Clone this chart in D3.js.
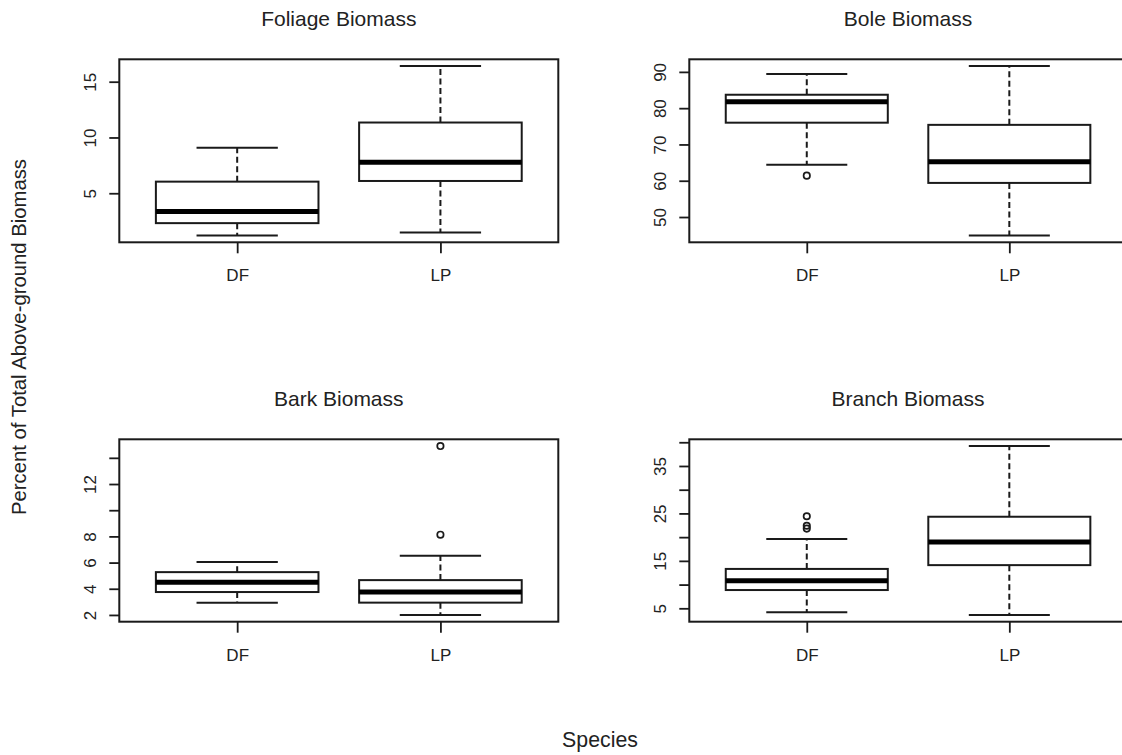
<!DOCTYPE html>
<html>
<head>
<meta charset="utf-8">
<script src="https://cdn.jsdelivr.net/npm/d3@7"></script>
<style>
  body { margin: 0; background: #fff; }
  svg text { font-family: "Liberation Sans", Arial, sans-serif; fill: #222; }
</style>
</head>
<body>
<div id="chart"></div>
<script>
// species on the x axis of each panel
const species = ['DF', 'LP']

// box stats per species: [lower whisker, Q1, median, Q3, upper whisker]
const foliageDF = [1.21, 2.32, 3.36, 6.04, 9.07]
const foliageLP = [1.48, 6.1, 7.77, 11.34, 16.4]
const boleDF = [64.4, 76.0, 81.8, 83.7, 89.4]
const boleLP = [44.9, 59.4, 65.2, 75.4, 91.6]
const barkDF = [2.94, 3.75, 4.5, 5.27, 6.05]
const barkLP = [2.0, 2.94, 3.75, 4.66, 6.53]
const branchDF = [4.16, 8.85, 10.8, 13.3, 19.6]
const branchLP = [3.6, 14.1, 19.0, 24.3, 39.2]

// outliers per species
const foliageOut = [[], []]
const boleOut = [[61.4], []]
const barkOut = [[], [8.13, 14.9]]
const branchOut = [[21.8, 22.4, 24.4], []]

// y ticks and the labels R printed (blank = tick only)
const foliageTicks = [5, 10, 15]
const foliageLabels = ['5', '10', '15']
const boleTicks = [50, 60, 70, 80, 90]
const boleLabels = ['50', '60', '70', '80', '90']
const barkTicks = [2, 4, 6, 8, 10, 12, 14]
const barkLabels = ['2', '4', '6', '8', '', '12', '']
const branchTicks = [5, 10, 15, 20, 25, 30, 35, 40]
const branchLabels = ['5', '', '15', '', '25', '', '35', '']

const titles = ['Foliage Biomass', 'Bole Biomass', 'Bark Biomass', 'Branch Biomass']

const width = 1122
const height = 755
const ink = '#1a1a1a'

// plot frames (right column runs past the picture edge, as in the original)
const cols = [[119.3, 558.3], [689.3, 1126.8]]
const rows = [[59.3, 242.3], [439.3, 621.7]]

const panels = [
  {title: titles[0], stats: [foliageDF, foliageLP], out: foliageOut, ticks: foliageTicks, labels: foliageLabels, col: 0, row: 0},
  {title: titles[1], stats: [boleDF, boleLP], out: boleOut, ticks: boleTicks, labels: boleLabels, col: 1, row: 0},
  {title: titles[2], stats: [barkDF, barkLP], out: barkOut, ticks: barkTicks, labels: barkLabels, col: 0, row: 1},
  {title: titles[3], stats: [branchDF, branchLP], out: branchOut, ticks: branchTicks, labels: branchLabels, col: 1, row: 1}
]

const svg = d3.select('#chart').append('svg')
  .attr('width', width)
  .attr('height', height)

svg.append('rect').attr('width', width).attr('height', height).attr('fill', '#fff')

// R style: extend the range by 4% each side
const padExtent = ext => {
  const d = (ext[1] - ext[0]) * 0.04
  return [ext[0] - d, ext[1] + d]
}

const drawPanel = p => {
  const [x0, x1] = cols[p.col]
  const [y0, y1] = rows[p.row]

  const all = p.stats.flat().concat(p.out.flat())
  const y = d3.scaleLinear().domain(padExtent(d3.extent(all))).range([y1, y0])
  const x = d3.scaleLinear().domain(padExtent([0.5, species.length + 0.5])).range([x0, x1])

  const g = svg.append('g')

  // y axis, labels rotated like R's las=0
  const yAx = g.append('g')
    .attr('transform', `translate(${x0},0)`)
    .call(d3.axisLeft(y)
      .tickValues(p.ticks)
      .tickSize(10)
      .tickSizeOuter(0)
      .tickFormat((d, i) => p.labels[i]))
  yAx.select('.domain').remove()
  yAx.selectAll('line').attr('stroke', ink).attr('stroke-width', 1.8)
  yAx.selectAll('text')
    .attr('transform', 'rotate(-90)')
    .attr('x', 0)
    .attr('y', -23.5)
    .attr('dy', null)
    .attr('text-anchor', 'middle')
    .attr('font-size', 17)
    .attr('fill', '#222')

  // x axis with species names
  const xAx = g.append('g')
    .attr('transform', `translate(0,${y1})`)
    .call(d3.axisBottom(x)
      .tickValues(species.map((s, i) => i + 1))
      .tickSize(11)
      .tickSizeOuter(0)
      .tickFormat((d, i) => species[i]))
  xAx.select('.domain').remove()
  xAx.selectAll('line').attr('stroke', ink).attr('stroke-width', 1.8)
  xAx.selectAll('text')
    .attr('y', 39)
    .attr('dy', null)
    .attr('font-size', 17)
    .attr('fill', '#222')

  // frame
  g.append('rect')
    .attr('x', x0).attr('y', y0)
    .attr('width', x1 - x0).attr('height', y1 - y0)
    .attr('fill', 'none').attr('stroke', ink).attr('stroke-width', 2)

  // boxes
  const box = g.selectAll('g.box')
    .data(p.stats)
    .join('g')
    .attr('class', 'box')

  // dashed whiskers
  box.append('line')
    .attr('x1', (d, i) => x(i + 1)).attr('x2', (d, i) => x(i + 1))
    .attr('y1', d => y(d[3])).attr('y2', d => y(d[4]))
    .attr('stroke', ink).attr('stroke-width', 2).attr('stroke-dasharray', '6,3.5')
  box.append('line')
    .attr('x1', (d, i) => x(i + 1)).attr('x2', (d, i) => x(i + 1))
    .attr('y1', d => y(d[1])).attr('y2', d => y(d[0]))
    .attr('stroke', ink).attr('stroke-width', 2).attr('stroke-dasharray', '6,3.5')

  // whisker caps
  ;[0, 4].forEach(k => {
    box.append('line')
      .attr('x1', (d, i) => x(i + 1 - 0.2)).attr('x2', (d, i) => x(i + 1 + 0.2))
      .attr('y1', d => y(d[k])).attr('y2', d => y(d[k]))
      .attr('stroke', ink).attr('stroke-width', 2)
  })

  box.append('rect')
    .attr('x', (d, i) => x(i + 1 - 0.4))
    .attr('width', (d, i) => x(i + 1 + 0.4) - x(i + 1 - 0.4))
    .attr('y', d => y(d[3]))
    .attr('height', d => y(d[1]) - y(d[3]))
    .attr('fill', '#fff').attr('stroke', ink).attr('stroke-width', 2)

  box.append('line')
    .attr('x1', (d, i) => x(i + 1 - 0.4)).attr('x2', (d, i) => x(i + 1 + 0.4))
    .attr('y1', d => y(d[2])).attr('y2', d => y(d[2]))
    .attr('stroke', '#000').attr('stroke-width', 5)

  // outliers
  p.out.forEach((vals, i) => {
    g.selectAll(null)
      .data(vals)
      .join('circle')
      .attr('cx', x(i + 1))
      .attr('cy', d => y(d))
      .attr('r', 3.2)
      .attr('fill', 'none').attr('stroke', ink).attr('stroke-width', 1.7)
  })

  // panel title
  g.append('text')
    .attr('x', (x0 + x1) / 2)
    .attr('y', y0 - 33)
    .attr('text-anchor', 'middle')
    .attr('font-size', 21)
    .text(p.title)
}

panels.forEach(drawPanel)

// shared axis titles
svg.append('text')
  .attr('transform', 'translate(26,337) rotate(-90)')
  .attr('text-anchor', 'middle')
  .attr('font-size', 20.3)
  .text('Percent of Total Above-ground Biomass')

svg.append('text')
  .attr('x', 600)
  .attr('y', 747)
  .attr('text-anchor', 'middle')
  .attr('font-size', 21.3)
  .text('Species')
</script>
</body>
</html>
